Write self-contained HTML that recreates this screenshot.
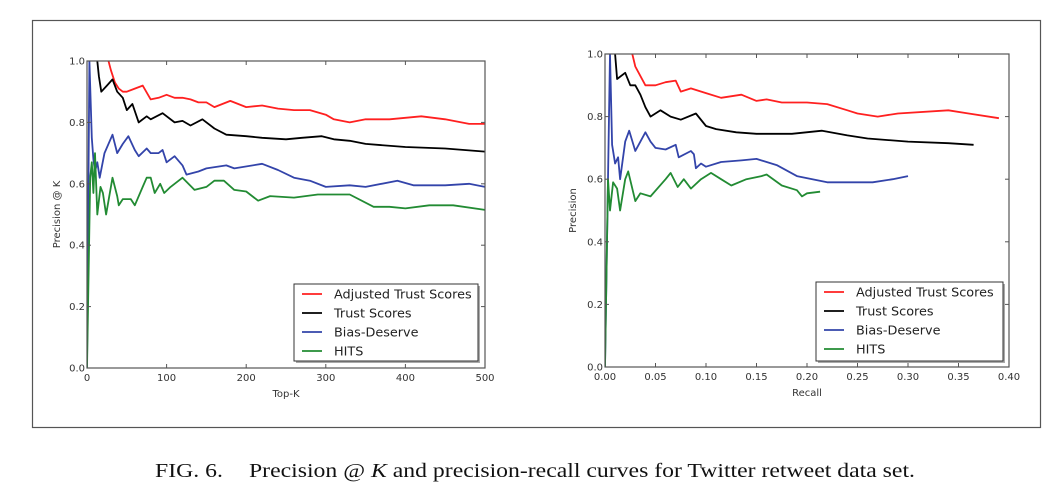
<!DOCTYPE html>
<html><head><meta charset="utf-8"><style>
body{margin:0;background:#fff;}
svg{display:block;font-family:"DejaVu Sans","Liberation Sans",sans-serif;}
.cap{font-family:"Liberation Serif",serif;}
</style></head><body>
<svg id="fig" width="1057" height="487" viewBox="0 0 1057 487">
<rect x="32.5" y="20.5" width="1008" height="407" fill="none" stroke="#555" stroke-width="1.2"/>
<text class="cap" x="155" y="477" font-size="20" fill="#111" textLength="760" lengthAdjust="spacingAndGlyphs">FIG. 6.<tspan dx="22">Precision @ </tspan><tspan font-style="italic">K</tspan> and precision-recall curves for Twitter retweet data set.</text>
</svg>
<script>
const seriesNames=["Adjusted Trust Scores","Trust Scores","Bias-Deserve","HITS"];
const seriesColors=["#ff2020","#000000","#3344aa","#228b33"];
const yTicks=[0.0,0.2,0.4,0.6,0.8,1.0];
const kTicks=[0,100,200,300,400,500];
const rTicks=[0.00,0.05,0.10,0.15,0.20,0.25,0.30,0.35,0.40];
// Left: Precision@K  [K, precision]
const leftRed=[[27,1.0],[30,0.97],[35,0.93],[40,0.91],[45,0.9],[50,0.9],[60,0.91],[70,0.92],[80,0.875],[90,0.88],[100,0.89],[110,0.88],[120,0.88],[130,0.875],[140,0.865],[150,0.865],[160,0.85],[180,0.87],[200,0.85],[220,0.855],[240,0.845],[260,0.84],[280,0.84],[300,0.825],[310,0.81],[330,0.8],[350,0.81],[380,0.81],[420,0.82],[450,0.81],[480,0.795],[500,0.795]];
const leftBlack=[[13,1.0],[15,0.95],[18,0.9],[25,0.92],[32,0.94],[38,0.9],[45,0.88],[50,0.84],[57,0.86],[65,0.8],[75,0.82],[80,0.81],[95,0.83],[110,0.8],[120,0.805],[130,0.79],[145,0.81],[160,0.78],[175,0.76],[200,0.755],[220,0.75],[250,0.745],[270,0.75],[295,0.755],[310,0.745],[330,0.74],[350,0.73],[400,0.72],[450,0.715],[500,0.705]];
const leftBlue=[[0,0],[3,1.0],[6,0.75],[8,0.68],[10,0.64],[13,0.67],[16,0.62],[22,0.7],[32,0.76],[38,0.7],[45,0.73],[52,0.755],[60,0.71],[65,0.69],[75,0.715],[80,0.7],[90,0.7],[95,0.71],[100,0.67],[110,0.69],[120,0.66],[125,0.63],[140,0.64],[150,0.65],[175,0.66],[185,0.65],[220,0.665],[240,0.645],[260,0.62],[280,0.61],[300,0.59],[330,0.595],[350,0.59],[390,0.61],[410,0.595],[450,0.595],[480,0.6],[500,0.59]];
const leftGreen=[[0,0],[4,0.62],[6,0.67],[8,0.57],[10,0.7],[13,0.5],[17,0.59],[20,0.57],[24,0.5],[32,0.62],[38,0.56],[40,0.53],[45,0.55],[55,0.55],[60,0.53],[70,0.59],[75,0.62],[80,0.62],[85,0.57],[92,0.6],[97,0.57],[105,0.59],[120,0.62],[135,0.58],[150,0.59],[160,0.61],[172,0.61],[185,0.58],[200,0.575],[215,0.545],[230,0.56],[260,0.555],[290,0.565],[330,0.565],[360,0.525],[380,0.525],[400,0.52],[430,0.53],[460,0.53],[500,0.515]];
// Right: precision-recall [recall, precision]
const rightRed=[[0.027,1.0],[0.03,0.96],[0.04,0.9],[0.05,0.9],[0.06,0.91],[0.07,0.915],[0.075,0.88],[0.085,0.89],[0.1,0.875],[0.115,0.86],[0.135,0.87],[0.15,0.85],[0.16,0.855],[0.175,0.845],[0.2,0.845],[0.22,0.84],[0.24,0.82],[0.25,0.81],[0.27,0.8],[0.29,0.81],[0.34,0.82],[0.36,0.81],[0.39,0.795]];
const rightBlack=[[0.01,1.0],[0.012,0.92],[0.02,0.94],[0.025,0.9],[0.03,0.9],[0.035,0.87],[0.04,0.83],[0.045,0.8],[0.055,0.82],[0.065,0.8],[0.075,0.79],[0.09,0.81],[0.1,0.77],[0.11,0.76],[0.13,0.75],[0.15,0.745],[0.17,0.745],[0.185,0.745],[0.215,0.755],[0.24,0.74],[0.26,0.73],[0.3,0.72],[0.34,0.715],[0.365,0.71]];
const rightBlue=[[0,0],[0.005,1.0],[0.007,0.71],[0.01,0.65],[0.013,0.67],[0.015,0.6],[0.02,0.72],[0.024,0.755],[0.03,0.69],[0.035,0.72],[0.04,0.75],[0.045,0.72],[0.05,0.7],[0.06,0.695],[0.07,0.71],[0.073,0.67],[0.085,0.69],[0.088,0.68],[0.09,0.635],[0.095,0.65],[0.1,0.64],[0.115,0.655],[0.135,0.66],[0.15,0.665],[0.17,0.645],[0.19,0.61],[0.22,0.59],[0.25,0.59],[0.265,0.59],[0.285,0.6],[0.3,0.61]];
const rightGreen=[[0,0],[0.003,0.6],[0.005,0.5],[0.008,0.59],[0.012,0.57],[0.015,0.5],[0.02,0.6],[0.023,0.625],[0.03,0.53],[0.035,0.555],[0.045,0.545],[0.06,0.6],[0.065,0.62],[0.072,0.575],[0.078,0.6],[0.085,0.57],[0.095,0.6],[0.105,0.62],[0.115,0.6],[0.125,0.58],[0.14,0.6],[0.155,0.61],[0.16,0.615],[0.175,0.58],[0.19,0.565],[0.195,0.545],[0.2,0.555],[0.213,0.56]];

const NS="http://www.w3.org/2000/svg";
const fig=document.getElementById('fig');
function mk(tag,attrs,parent){const e=document.createElementNS(NS,tag);for(const k in attrs)e.setAttribute(k,attrs[k]);(parent||fig).appendChild(e);return e;}

function drawChart(cfg){
  const g=mk('g',{});
  
  
  const L=cfg.x0,R=cfg.x1,T=cfg.y0,B=cfg.y1;
  const sx=v=>L+(v-cfg.xmin)/(cfg.xmax-cfg.xmin)*(R-L);
  const sy=v=>B-(v-0)/(1-0)*(B-T);
  const clip='clip-'+cfg.name;
  const cp=mk('clipPath',{id:clip},g);mk('rect',{x:L,y:T,width:R-L,height:B-T},cp);
  cfg.series.forEach((s,i)=>{
    const p=mk('polyline',{points:s.map(d=>sx(d[0]).toFixed(1)+','+sy(d[1]).toFixed(1)).join(' '),fill:'none',stroke:seriesColors[i],'stroke-width':1.8,'stroke-linejoin':'round','clip-path':'url(#'+clip+')'},g);
    
    
  });
  const fr=mk('rect',{x:L,y:T,width:R-L,height:B-T,fill:'none',stroke:'#555','stroke-width':1.2},g);
  
  
  yTicks.forEach(v=>{
    const y=sy(v);
    mk('line',{x1:L,x2:L+4,y1:y,y2:y,stroke:'#555'},g);
    mk('line',{x1:R-4,x2:R,y1:y,y2:y,stroke:'#555'},g);
    const t=mk('text',{x:L-2,y:y+3.5,'text-anchor':'end','font-size':10,fill:'#333'},g);
    t.textContent=v.toFixed(1);
    
    
  });
  cfg.ticks.forEach(v=>{
    const x=sx(v);
    mk('line',{x1:x,x2:x,y1:B,y2:B-4,stroke:'#555'},g);
    mk('line',{x1:x,x2:x,y1:T,y2:T+4,stroke:'#555'},g);
    const t=mk('text',{x:x,y:B+13,'text-anchor':'middle','font-size':10,fill:'#333'},g);
    t.textContent=cfg.fmt(v);
    
    
  });
  const xl=mk('text',{x:(L+R)/2,y:B+29,'text-anchor':'middle','font-size':10,fill:'#333'},g);
  xl.textContent=cfg.xlabel;
  
  
  const yl=mk('text',{x:0,y:0,'text-anchor':'middle','font-size':10,fill:'#333',transform:'translate('+(cfg.ylx)+','+((T+B)/2)+') rotate(-90)'},g);
  yl.textContent=cfg.ylabel;
  
  
  const lg=mk('g',{},g);
  
  
  const lb=cfg.legend;
  mk('rect',{x:lb[0]+2,y:lb[1]+2,width:lb[2],height:lb[3],fill:'#aaa'},lg);
  mk('rect',{x:lb[0],y:lb[1],width:lb[2],height:lb[3],fill:'#fff',stroke:'#333','stroke-width':1},lg);
  seriesNames.forEach((n,i)=>{
    const y=lb[1]+10+i*19;
    const e=mk('g',{},lg);
    
    
    mk('line',{x1:lb[0]+8,x2:lb[0]+28,y1:y,y2:y,stroke:seriesColors[i],'stroke-width':1.8},e);
    const t=mk('text',{x:lb[0]+40,y:y+4.5,'font-size':12.8,fill:'#222'},e);
    t.textContent=n;
  });
}
drawChart({name:'precision-at-k-chart',x0:87,x1:485,y0:61,y1:368,xmin:0,xmax:500,ticks:kTicks,fmt:v=>String(v),xlabel:'Top-K',ylabel:'Precision @ K',ylx:60,legend:[294,284,184,77],series:[leftRed,leftBlack,leftBlue,leftGreen]});
drawChart({name:'precision-recall-chart',x0:605,x1:1009,y0:54,y1:367,xmin:0,xmax:0.4,ticks:rTicks,fmt:v=>v.toFixed(2),xlabel:'Recall',ylabel:'Precision',ylx:576,legend:[816,282,187,79],series:[rightRed,rightBlack,rightBlue,rightGreen]});
</script>
</body></html>
